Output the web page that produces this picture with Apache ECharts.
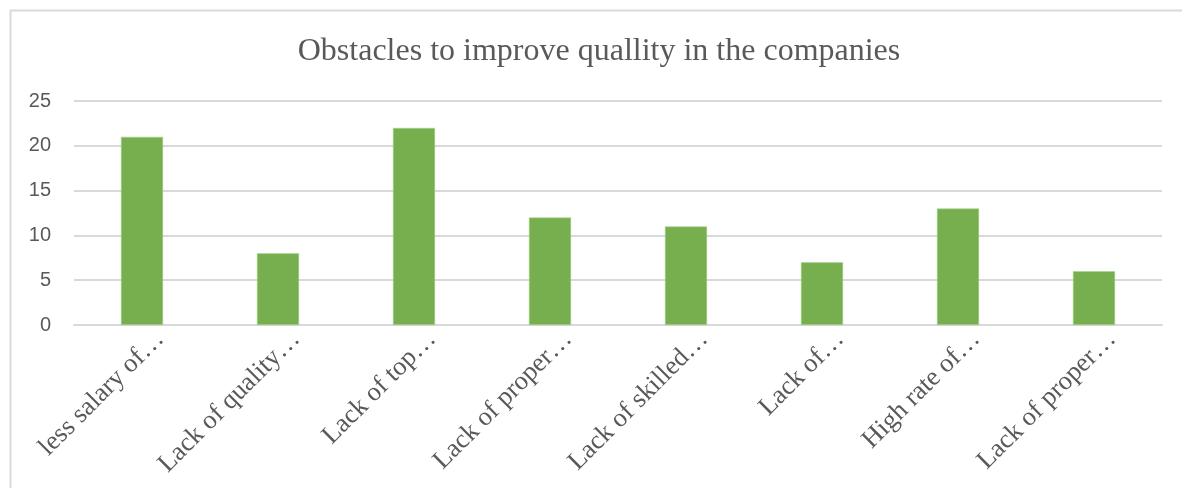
<!DOCTYPE html>
<html>
<head>
<meta charset="utf-8">
<script src="https://cdn.jsdelivr.net/npm/echarts@6/dist/echarts.min.js"></script>
<style>
  html, body { margin: 0; padding: 0; background: #fff; }
  #chart { width: 1182px; height: 488px; }
</style>
</head>
<body>
<div id="chart"></div>
<script>
// Obstacle categories (labels are truncated as shown on the axis)
const categories = [
  'less salary of\u2026',
  'Lack of quality\u2026',
  'Lack of top\u2026',
  'Lack of proper\u2026',
  'Lack of skilled\u2026',
  'Lack of\u2026',
  'High rate of\u2026',
  'Lack of proper\u2026'
];
// Number of responses per obstacle
const counts = [21, 8, 22, 12, 11, 7, 13, 6];
const yTicks = { min: 0, max: 25, interval: 5 };

const chart = echarts.init(document.getElementById('chart'), null, { renderer: 'canvas' });
const grey = '#595959';
const plot = { left: 74, right: 20, top: 101, bottom: 163 };
// labels hang slightly to the right of each category centre
const labelShift = 18;

chart.setOption({
  animation: false,
  backgroundColor: '#ffffff',
  title: {
    text: 'Obstacles to improve quallity in the companies',
    left: 594,
    top: 31,
    textAlign: 'center',
    textStyle: {
      fontFamily: 'Liberation Serif',
      fontWeight: 'normal',
      fontSize: 32,
      color: grey
    }
  },
  graphic: [{
    type: 'polyline',
    shape: { points: [[10.5, 600], [10.5, 10.5], [1300, 10.5]] },
    style: { stroke: '#d9d9d9', lineWidth: 2, fill: null },
    silent: true
  }],
  grid: [
    { left: plot.left, right: plot.right, top: plot.top, bottom: plot.bottom },
    { left: plot.left + labelShift, right: plot.right - labelShift, top: plot.top, bottom: plot.bottom }
  ],
  xAxis: [{
    type: 'category',
    gridIndex: 0,
    data: categories,
    axisLine: { show: true, lineStyle: { color: '#d9d9d9', width: 2 } },
    axisTick: { show: false },
    axisLabel: { show: false }
  }, {
    type: 'category',
    gridIndex: 1,
    data: categories,
    axisLine: { show: false },
    axisTick: { show: false },
    axisLabel: {
      rotate: 45,
      interval: 0,
      margin: 10,
      fontFamily: 'Liberation Serif',
      fontSize: 26.5,
      color: grey
    }
  }],
  yAxis: [{
    type: 'value',
    gridIndex: 0,
    min: yTicks.min,
    max: yTicks.max,
    interval: yTicks.interval,
    axisLine: { show: false },
    axisTick: { show: false },
    splitLine: { lineStyle: { color: '#d9d9d9', width: 2 } },
    axisLabel: {
      margin: 23,
      fontFamily: 'Liberation Sans',
      fontSize: 20,
      color: grey
    }
  }, {
    type: 'value',
    gridIndex: 1,
    min: yTicks.min,
    max: yTicks.max,
    interval: yTicks.interval,
    show: false
  }],
  series: [{
    type: 'bar',
    xAxisIndex: 0,
    yAxisIndex: 0,
    data: counts,
    barWidth: '31%',
    itemStyle: { color: '#77af4e', borderColor: '#a9d18e', borderWidth: 0.6 }
  }]
});
</script>
</body>
</html>
